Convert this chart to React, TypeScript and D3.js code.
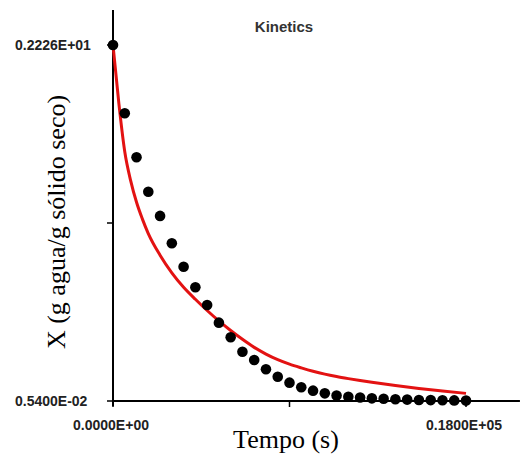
import React from "react";
import * as d3 from "d3";

// Drying kinetics: measured moisture content (dots) and fitted model (red line)
const timeObs: number[] = [
  0, 600, 1200, 1800, 2400, 3000, 3600, 4200, 4800, 5400, 6000, 6600, 7200, 7800,
  8400, 9000, 9600, 10200, 10800, 11400, 12000, 12600, 13200, 13800, 14400, 15000,
  15600, 16200, 16800, 17400, 18000,
];
const moistureObs: number[] = [
  2.226, 1.8, 1.526, 1.311, 1.16, 0.989, 0.843, 0.715, 0.604, 0.494, 0.403, 0.313,
  0.261, 0.203, 0.157, 0.12, 0.091, 0.07, 0.053, 0.039, 0.032, 0.027, 0.022, 0.019,
  0.016, 0.014, 0.012, 0.011, 0.01, 0.009, 0.008,
];

const timeFit: number[] = [
  0, 300, 600, 900, 1200, 1500, 1800, 2400, 3000, 3600, 4200, 4800, 5400, 6000, 6600,
  7200, 7800, 8400, 9000, 9600, 10200, 10800, 11400, 12000, 12600, 13200, 14400,
  15600, 16800, 18000,
];
const moistureFit: number[] = [
  2.226, 1.86, 1.56, 1.38, 1.245, 1.14, 1.05, 0.915, 0.805, 0.715, 0.64, 0.57, 0.505,
  0.445, 0.39, 0.34, 0.298, 0.263, 0.235, 0.212, 0.191, 0.173, 0.158, 0.145, 0.133,
  0.122, 0.102, 0.084, 0.068, 0.053,
];

const xTicks: number[] = [0, 9000, 18000];
const xTickLabels: string[] = ["0.0000E+00", "", "0.1800E+05"];
const yTicks: number[] = [0.0054, 1.1157, 2.226];
const yTickLabels: string[] = ["0.5400E-02", "", "0.2226E+01"];

const W = 526;
const H = 461;

export default function App() {
  const x = d3.scaleLinear().domain([0, 18000]).range([113, 466]);
  const y = d3.scaleLinear().domain([0.0054, 2.226]).range([401, 45]);

  const fitLine = d3
    .line<number>()
    .x((_, i) => x(timeFit[i]))
    .y((d) => y(d))
    .curve(d3.curveMonotoneX);

  const axisTop = y(2.444);
  const axisRight = x(20750);
  const tickFont = "'Liberation Sans', Arial, sans-serif";
  const serif = "'Liberation Serif', 'Times New Roman', serif";

  return (
    <div style={{ position: "fixed", left: 0, top: 0 }}>
      <svg width={W} height={H} style={{ display: "block", background: "#fff" }}>
        <rect width={W} height={H} fill="#fff" />
        {/* title */}
        <text
          x={284}
          y={32}
          textAnchor="middle"
          fontFamily={tickFont}
          fontWeight="bold"
          fontSize={15}
          fill="#333"
        >
          Kinetics
        </text>

        {/* axes */}
        <line x1={x(0)} x2={x(0)} y1={axisTop} y2={y(0.0054) + 5} stroke="#000" strokeWidth={2} />
        <line x1={x(0)} x2={axisRight} y1={y(0.0054)} y2={y(0.0054)} stroke="#000" strokeWidth={2} />

        {yTicks.map((v, i) => (
          <g key={"yt" + i}>
            <line x1={x(0) - 6} x2={x(0)} y1={y(v)} y2={y(v)} stroke="#000" strokeWidth={1.5} />
            {yTickLabels[i] && (
              <text
                x={15}
                y={y(v)}
                dy="0.36em"
                fontFamily={tickFont}
                fontWeight="bold"
                fontSize={14}
                fill="#222"
              >
                {yTickLabels[i]}
              </text>
            )}
          </g>
        ))}

        {xTicks.map((v, i) => (
          <g key={"xt" + i}>
            <line x1={x(v)} x2={x(v)} y1={y(0.0054)} y2={y(0.0054) + 6} stroke="#000" strokeWidth={1.5} />
            {xTickLabels[i] && (
              <text
                x={x(v) - 2}
                y={430}
                textAnchor="middle"
                fontFamily={tickFont}
                fontWeight="bold"
                fontSize={14}
                fill="#222"
              >
                {xTickLabels[i]}
              </text>
            )}
          </g>
        ))}

        {/* axis titles */}
        <text x={286} y={448} textAnchor="middle" fontFamily={serif} fontSize={26} fill="#000">
          Tempo (s)
        </text>
        <text
          transform={`translate(65, 222) rotate(-90)`}
          textAnchor="middle"
          fontFamily={serif}
          fontSize={26}
          fill="#000"
        >
          X (g agua/g sólido seco)
        </text>

        {/* fitted model */}
        <path d={fitLine(moistureFit) || ""} fill="none" stroke="#e31212" strokeWidth={3} />

        {/* measurements */}
        {moistureObs.map((v, i) => (
          <circle key={"p" + i} cx={x(timeObs[i])} cy={y(v)} r={5.3} fill="#000" />
        ))}
      </svg>
    </div>
  );
}
